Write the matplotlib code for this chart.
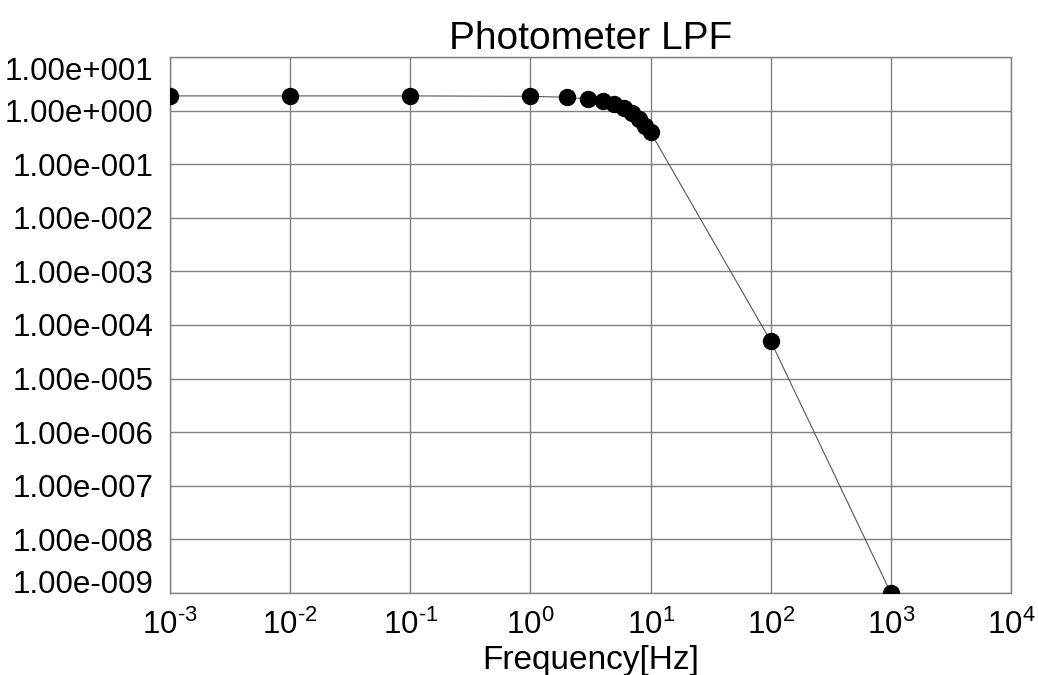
import matplotlib
matplotlib.use("Agg")
import matplotlib.pyplot as plt
from matplotlib.ticker import FixedLocator

plt.rcParams['font.family'] = ['Liberation Sans', 'DejaVu Sans']
plt.rcParams['mathtext.fontset'] = 'custom'
plt.rcParams['mathtext.rm'] = 'Liberation Sans'
plt.rcParams['mathtext.it'] = 'Liberation Sans'
plt.rcParams['mathtext.default'] = 'regular'

freq = [0.001, 0.01, 0.1, 1, 2, 3, 4, 5, 6, 7, 8, 9, 10, 100, 1000]
gain = [1.88, 1.88, 1.88, 1.85, 1.77, 1.65, 1.49, 1.33, 1.12, 0.89, 0.70, 0.525, 0.394, 5.0e-5, 1.0e-9]
y_ticks = [1e1, 1e0, 1e-1, 1e-2, 1e-3, 1e-4, 1e-5, 1e-6, 1e-7, 1e-8, 1e-9]
y_labels = ["1.00e+001", "1.00e+000", "1.00e-001", "1.00e-002", "1.00e-003", "1.00e-004",
            "1.00e-005", "1.00e-006", "1.00e-007", "1.00e-008", "1.00e-009"]
x_ticks = [1e-3, 1e-2, 1e-1, 1e0, 1e1, 1e2, 1e3, 1e4]
x_exponents = ["-3", "-2", "-1", "0", "1", "2", "3", "4"]

fig = plt.figure(figsize=(10.38, 6.75), dpi=100)
ax = fig.add_axes([170/1038, 1-593/675, (1011-170)/1038, (593-57)/675])
ax.set_xscale('log')
ax.set_yscale('log')
ax.set_xlim(1e-3, 1e4)
ax.set_ylim(1e-9, 1e1)

ax.plot(freq, gain, color='#555555', linewidth=0.8, marker='o', markersize=11.5,
        markerfacecolor='black', markeredgecolor='black', zorder=3)

ax.xaxis.set_major_locator(FixedLocator(x_ticks))
ax.yaxis.set_major_locator(FixedLocator(y_ticks))
ax.xaxis.set_minor_locator(FixedLocator([]))
ax.yaxis.set_minor_locator(FixedLocator([]))
ax.set_xticklabels([r"$10^{\text{%s}}$" % e for e in x_exponents])
ax.set_yticklabels(y_labels)
ax.tick_params(axis='both', length=0, labelsize=22.5, colors='black')
ax.tick_params(axis='x', pad=12)
ax.tick_params(axis='y', pad=12)
ylbls = ax.get_yticklabels()
ylbls[0].set_verticalalignment('top')
ylbls[-1].set_verticalalignment('baseline')

ax.grid(True, color='#808080', linewidth=1.0)
for s in ax.spines.values():
    s.set_color('#808080')
    s.set_linewidth(1.0)

ax.set_title("Photometer LPF", fontsize=28, pad=6)
ax.set_xlabel("Frequency[Hz]", fontsize=24, labelpad=3)

fig.savefig("out.png", dpi=100)
